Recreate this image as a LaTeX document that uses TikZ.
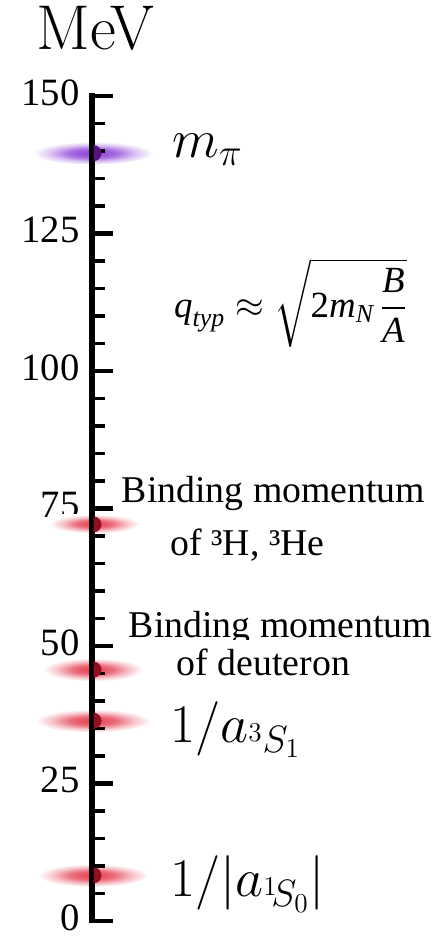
\RequirePackage{fix-cm}
\documentclass[tikz,border=0pt]{standalone}
\usepackage{amsmath}
\usepackage{fontspec}
\newfontfamily\timesfont{LiberationSerif}[Extension=.ttf, UprightFont=*-Regular, ItalicFont=*-Italic, BoldFont=*-Bold, BoldItalicFont=*-BoldItalic]
\usetikzlibrary{positioning}
\definecolor{glowred}{RGB}{228,60,80}
\definecolor{dotred}{RGB}{145,15,35}
\definecolor{glowpurple}{RGB}{140,60,215}
\definecolor{dotpurple}{RGB}{85,20,125}
\pgfdeclareradialshading{redglow}{\pgfpoint{0bp}{0bp}}{color(0bp)=(glowred); color(10bp)=(glowred!75); color(18bp)=(glowred!30); color(25bp)=(white); color(50bp)=(white)}
\pgfdeclareradialshading{purpleglow}{\pgfpoint{0bp}{0bp}}{color(0bp)=(glowpurple); color(10bp)=(glowpurple!75); color(18bp)=(glowpurple!30); color(25bp)=(white); color(50bp)=(white)}
\newcommand{\ti}[1]{\text{\itshape #1}}

\begin{document}
\begin{tikzpicture}[x=1cm, y=0.11cm,
    ticklab/.style={anchor=east, inner sep=0pt, font=\timesfont\fontsize{22}{24}\selectfont},
    bind/.style={anchor=base, inner sep=0pt, font=\timesfont\fontsize{21.5}{24}\selectfont},
    biglab/.style={anchor=base west, inner sep=0pt, font=\fontsize{31}{36}\selectfont}]
  \useasboundingbox (-1.84,-2.727) rectangle (6.98,167.45);
  % scale numbers
  \foreach \v in {0,25,...,150}
    \node[ticklab] (num\v) at (-0.24,\v+0.6) {\v};
  \node[anchor=base, inner sep=0pt, font=\fontsize{36}{40}\selectfont] (mev) at (0.07,158.4) {MeV};
  % glows
  \foreach \y/\glw/\hw in {139.6/purpleglow/1.2, 45.7/redglow/1.0, 36.4/redglow/1.15, 8.3/redglow/1.1}
    \shade[shading=\glw] (0.02,\y) ellipse (\hw cm and 0.23cm);
  \shade[shading=redglow] (-0.85,70.5) rectangle (0.95,73.9);
  % axis and ticks
  \draw[line width=3pt] (0,-0.45) -- (0,150.45);
  \foreach \v in {5,10,...,145}
    \draw[line width=2pt] (0,\v) -- (0.26,\v);
  \foreach \v in {0,25,...,150}
    \draw[line width=2.6pt] (-0.053,\v) -- (0.42,\v);
  % dots
  \foreach \y/\c in {139.6/dotpurple, 72.1/dotred, 45.7/dotred, 36.4/dotred, 8.3/dotred}
    \fill[\c] (0.03,\y) ++(0,0.16cm) arc[start angle=90, end angle=-90, radius=0.16cm] -- cycle;
  % labels
  \node[biglab] (mpi) at (1.6,138.9) {$m_\pi$};
  \node[anchor=center, inner sep=0pt, font=\timesfont\fontsize{21}{24}\selectfont] (qtyp) at (3.97,112.4)
    {$\ti{q}_{\ti{typ}} \approx \sqrt{\text{2}\ti{m}_{\ti{N}}\,\dfrac{\ti{B}}{\ti{A}}}$};
  \node[bind] (tri1) at (3.63,76.0) {Binding momentum};
  \node[bind] (tri2) at (3.11,66.5) {of ³H, ³He};
  \node[bind] (deu1) at (3.77,51.6) {Binding momentum};
  \node[bind, fill=white, inner xsep=2pt, inner ysep=5pt] (deu2) at (3.43,44.7) {of deuteron};
  \node[biglab] (as1) at (1.56,32.5) {$1/a_{{}^3S_1}$};
  \node[biglab] (as0) at (1.56,4.4) {$1/|a_{{}^1\!S_0}|$};
\end{tikzpicture}
\end{document}
